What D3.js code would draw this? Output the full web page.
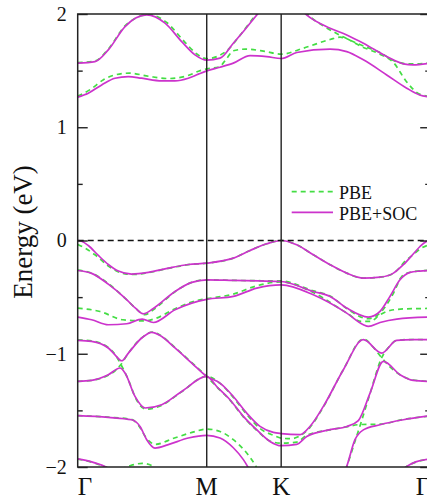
<!DOCTYPE html>
<html>
<head>
<meta charset="utf-8">
<script src="https://cdn.jsdelivr.net/npm/d3@7"></script>
<style>
body { margin: 0; background: #fff; }
svg { display: block; }
text { font-family: "Liberation Serif", "Times New Roman", serif; fill: #111; }
</style>
</head>
<body>
<svg></svg>
<script>
// k path: Gamma-M = 1, then M-K, K-Gamma (hexagonal BZ lengths)
const kPoints = [0, 1, 1.577, 2.732]
const kLabels = ["Γ", "M", "K", "Γ"]
const yTicks = [-2, -1, 0, 1, 2]
const yMinor = [-1.5, -0.5, 0.5, 1.5]
const legendNames = ["PBE", "PBE+SOC"]

// PBE+SOC bands [k, E in eV]
const socC2 = [[0,1.566],[0.134,1.58],[0.237,1.683],[0.367,1.889],[0.535,1.992],[0.677,1.919],[0.806,1.756],[0.909,1.639],[1,1.592],[1.103,1.61],[1.206,1.742],[1.284,1.845],[1.4,2.007],[1.5,2.13],[1.577,2.17],[1.68,2.1],[1.776,1.99],[1.956,1.875],[2.085,1.815],[2.214,1.742],[2.395,1.624],[2.524,1.56],[2.6,1.55],[2.732,1.566]]
const socC1 = [[0,1.266],[0.082,1.301],[0.186,1.374],[0.289,1.433],[0.392,1.447],[0.496,1.433],[0.651,1.41],[0.754,1.41],[0.857,1.433],[0.935,1.469],[1,1.498],[1.103,1.53],[1.206,1.566],[1.336,1.633],[1.465,1.624],[1.577,1.607],[1.698,1.66],[1.956,1.689],[2.085,1.668],[2.214,1.595],[2.395,1.462],[2.55,1.345],[2.65,1.285],[2.732,1.266]]
const socV1 = [[0,0],[0.03,-0.006],[0.082,-0.044],[0.16,-0.132],[0.237,-0.212],[0.315,-0.27],[0.418,-0.297],[0.548,-0.282],[0.703,-0.244],[0.858,-0.212],[1,-0.2],[1.206,-0.156],[1.336,-0.088],[1.465,-0.029],[1.577,0],[1.697,-0.038],[1.826,-0.126],[1.956,-0.214],[2.085,-0.288],[2.214,-0.332],[2.343,-0.324],[2.447,-0.288],[2.524,-0.214],[2.602,-0.117],[2.653,-0.053],[2.7,-0.01],[2.732,0]]
const socV2 = [[0,-0.265],[0.108,-0.29],[0.237,-0.385],[0.367,-0.508],[0.45,-0.6],[0.509,-0.647],[0.586,-0.6],[0.754,-0.45],[0.884,-0.37],[1,-0.347],[1.206,-0.352],[1.4,-0.357],[1.577,-0.362],[1.826,-0.45],[1.956,-0.494],[2.085,-0.597],[2.253,-0.676],[2.343,-0.626],[2.42,-0.494],[2.498,-0.347],[2.576,-0.282],[2.65,-0.27],[2.732,-0.265]]
const socV3 = [[0,-0.676],[0.108,-0.7],[0.237,-0.744],[0.38,-0.735],[0.5,-0.694],[0.586,-0.724],[0.754,-0.612],[0.884,-0.553],[1,-0.52],[1.206,-0.494],[1.388,-0.42],[1.577,-0.391],[1.826,-0.479],[2.085,-0.641],[2.214,-0.744],[2.253,-0.759],[2.343,-0.724],[2.473,-0.694],[2.732,-0.676]]
const socV4 = [[0,-0.882],[0.108,-0.89],[0.237,-0.949],[0.289,-1.009],[0.341,-1.062],[0.393,-0.994],[0.496,-0.861],[0.573,-0.811],[0.651,-0.847],[0.754,-0.949],[0.884,-1.082],[1,-1.2],[1.103,-1.259],[1.206,-1.377],[1.31,-1.524],[1.413,-1.641],[1.516,-1.694],[1.577,-1.705],[1.723,-1.715],[1.8,-1.642],[1.904,-1.465],[2.059,-1.141],[2.214,-0.876],[2.356,-0.994],[2.472,-0.882],[2.602,-0.876],[2.732,-0.876]]
const socV5 = [[0,-1.244],[0.108,-1.235],[0.237,-1.185],[0.328,-1.126],[0.367,-1.17],[0.444,-1.377],[0.522,-1.479],[0.651,-1.45],[0.806,-1.333],[1,-1.2],[1.077,-1.289],[1.18,-1.406],[1.284,-1.553],[1.387,-1.671],[1.49,-1.774],[1.577,-1.812],[1.697,-1.8],[1.775,-1.73],[1.956,-1.67],[2.085,-1.642],[2.175,-1.59],[2.266,-1.347],[2.369,-1.067],[2.498,-1.185],[2.6,-1.235],[2.732,-1.244]]
const socV6 = [[0,-1.547],[0.237,-1.562],[0.418,-1.583],[0.483,-1.642],[0.535,-1.759],[0.599,-1.833],[0.702,-1.803],[0.857,-1.744],[1,-1.72],[1.103,-1.744],[1.206,-1.83],[1.284,-1.935],[1.35,-2.06],[1.45,-2.25],[1.577,-2.35],[1.9,-2.35],[2.0,-2.2],[2.085,-1.995],[2.149,-1.759],[2.214,-1.672],[2.343,-1.627],[2.524,-1.583],[2.732,-1.547]]
const socV7 = [[0,-1.929],[0.108,-1.955],[0.21,-1.995],[0.33,-2.08],[0.5,-2.06],[0.7,-2.2],[2.3,-2.2],[2.45,-2.1],[2.55,-1.995],[2.62,-1.955],[2.732,-1.929]]

// PBE bands [k, E in eV]
const pbeC2 = [[0,1.57],[0.134,1.585],[0.237,1.69],[0.367,1.895],[0.55,1.995],[0.69,1.925],[0.82,1.765],[0.92,1.65],[1,1.605],[1.08,1.625],[1.16,1.68],[1.25,1.8],[1.38,1.99],[1.5,2.13],[1.577,2.17],[1.7,2.1],[1.8,1.977],[1.904,1.895],[2.033,1.812],[2.214,1.718],[2.343,1.66],[2.447,1.59],[2.55,1.56],[2.65,1.56],[2.732,1.57]]
const pbeC1 = [[0,1.275],[0.1,1.335],[0.2,1.42],[0.3,1.465],[0.4,1.478],[0.55,1.45],[0.7,1.43],[0.85,1.455],[0.95,1.5],[1,1.515],[1.1,1.535],[1.15,1.6],[1.206,1.675],[1.3,1.69],[1.45,1.67],[1.577,1.645],[1.749,1.698],[1.956,1.775],[2.033,1.795],[2.214,1.705],[2.343,1.645],[2.447,1.572],[2.55,1.4],[2.653,1.29],[2.732,1.272]]
const pbeV1 = [[0,-0.035],[0.056,-0.067],[0.134,-0.126],[0.237,-0.225],[0.367,-0.294],[0.444,-0.3],[0.548,-0.284],[0.703,-0.246],[0.858,-0.213],[1,-0.2],[1.206,-0.156],[1.336,-0.088],[1.465,-0.029],[1.577,0],[1.697,-0.038],[1.826,-0.126],[1.956,-0.214],[2.085,-0.288],[2.214,-0.332],[2.343,-0.324],[2.447,-0.29],[2.55,-0.17],[2.6,-0.126],[2.653,-0.075],[2.732,-0.035]]
const pbeV2 = [[0,-0.262],[0.108,-0.288],[0.237,-0.38],[0.367,-0.51],[0.45,-0.6],[0.52,-0.655],[0.6,-0.6],[0.754,-0.452],[0.884,-0.37],[1,-0.347],[1.206,-0.352],[1.4,-0.355],[1.577,-0.357],[1.826,-0.445],[1.956,-0.49],[2.085,-0.6],[2.25,-0.69],[2.36,-0.62],[2.45,-0.46],[2.51,-0.32],[2.58,-0.28],[2.732,-0.262]]
const pbeV3 = [[0,-0.597],[0.173,-0.627],[0.35,-0.7],[0.51,-0.71],[0.6,-0.69],[0.741,-0.61],[0.948,-0.523],[1,-0.514],[1.206,-0.473],[1.388,-0.4],[1.577,-0.365],[1.826,-0.46],[2.085,-0.64],[2.2,-0.715],[2.266,-0.715],[2.343,-0.656],[2.42,-0.618],[2.55,-0.603],[2.732,-0.6]]
const pbeV4 = [[0,-0.878],[0.108,-0.887],[0.237,-0.945],[0.289,-1.005],[0.335,-1.095],[0.4,-1.25],[0.444,-1.38],[0.53,-1.49],[0.651,-1.455],[0.806,-1.335],[1,-1.2],[1.103,-1.262],[1.206,-1.385],[1.31,-1.535],[1.413,-1.66],[1.516,-1.72],[1.577,-1.745],[1.65,-1.75],[1.723,-1.725],[1.8,-1.65],[1.904,-1.47],[2.059,-1.14],[2.214,-0.87],[2.3,-0.955],[2.356,-1.035],[2.42,-1.115],[2.498,-1.185],[2.6,-1.232],[2.732,-1.244]]
const pbeV5 = [[0,-1.244],[0.108,-1.235],[0.237,-1.19],[0.3,-1.14],[0.335,-1.095],[0.393,-0.994],[0.496,-0.86],[0.58,-0.808],[0.651,-0.845],[0.754,-0.945],[0.884,-1.078],[1,-1.2],[1.077,-1.292],[1.18,-1.41],[1.284,-1.558],[1.387,-1.676],[1.49,-1.77],[1.577,-1.79],[1.697,-1.78],[1.775,-1.72],[1.956,-1.672],[2.085,-1.645],[2.19,-1.625],[2.343,-1.622],[2.524,-1.58],[2.732,-1.55]]
const pbeV6 = [[0,-1.547],[0.237,-1.56],[0.418,-1.58],[0.47,-1.63],[0.53,-1.74],[0.6,-1.8],[0.75,-1.744],[0.9,-1.69],[1,-1.665],[1.103,-1.686],[1.206,-1.759],[1.31,-1.877],[1.374,-1.98],[1.45,-2.15],[1.577,-2.35],[1.9,-2.35],[2.0,-2.2],[2.085,-1.995],[2.15,-1.77],[2.19,-1.63],[2.266,-1.35],[2.356,-1.035],[2.42,-0.93],[2.472,-0.882],[2.602,-0.874],[2.732,-0.876]]
const pbeV7 = [[0,-1.93],[0.108,-1.957],[0.21,-1.997],[0.3,-2.03],[0.4,-1.99],[0.5,-1.968],[0.58,-1.99],[0.68,-2.1],[2.3,-2.2],[2.45,-2.1],[2.55,-1.995],[2.62,-1.957],[2.732,-1.93]]

const socBands = [socC2, socC1, socV1, socV2, socV3, socV4, socV5, socV6, socV7]
const pbeBands = [pbeC2, pbeC1, pbeV1, pbeV2, pbeV3, pbeV4, pbeV5, pbeV6, pbeV7]

const w = 427
const h = 504
const pLeft = 77.7
const pRight = 430.2
const pTop = 14
const pBottom = 467

const socColor = "#cc33cc"
const pbeColor = "#44dd44"

const svg = d3.select("svg").attr("width", w).attr("height", h)

const xScale = d3.scaleLinear().domain([kPoints[0], kPoints[3]]).range([pLeft, pRight])
const yScale = d3.scaleLinear().domain([-2, 2]).range([pBottom, pTop])

svg.append("clipPath").attr("id", "plot").append("rect")
    .attr("x", pLeft).attr("y", pTop).attr("width", pRight - pLeft).attr("height", pBottom - pTop)

const line = d3.line().x(d => xScale(d[0])).y(d => yScale(d[1])).curve(d3.curveMonotoneX)

const bands = svg.append("g").attr("clip-path", "url(#plot)")

// green dashed PBE first, SOC on top
bands.selectAll(".pbe").data(pbeBands).enter().append("path").attr("class", "pbe")
    .attr("d", line).attr("fill", "none").attr("stroke", pbeColor)
    .attr("stroke-width", 1.7).attr("stroke-dasharray", "5,4")

bands.selectAll(".soc").data(socBands).enter().append("path").attr("class", "soc")
    .attr("d", line).attr("fill", "none").attr("stroke", socColor).attr("stroke-width", 1.7)

// Fermi level
svg.append("line").attr("x1", pLeft).attr("x2", pRight).attr("y1", yScale(0)).attr("y2", yScale(0))
    .attr("stroke", "#111").attr("stroke-width", 1.3).attr("stroke-dasharray", "6,4")

// high symmetry lines
svg.selectAll(".ksym").data(kPoints.slice(1, 3)).enter().append("line").attr("class", "ksym")
    .attr("x1", d => xScale(d)).attr("x2", d => xScale(d)).attr("y1", pTop).attr("y2", pBottom)
    .attr("stroke", "#222").attr("stroke-width", 1.4)

// axes, ticks pointing inward
let drawAxis = () => {
    let axisL = d3.axisLeft(yScale).tickValues(yTicks).tickSize(-10).tickPadding(11).tickFormat(d3.format("d"))
    let gl = svg.append("g").attr("transform", "translate(" + pLeft + ",0)").call(axisL)
    gl.select(".domain").remove()
    gl.selectAll("text").style("font-size", "20px").attr("fill", "#111")
    gl.selectAll("line").attr("stroke", "#222").attr("stroke-width", 1.4)

    let minorL = d3.axisLeft(yScale).tickValues(yMinor).tickSize(-5).tickFormat("")
    let gm = svg.append("g").attr("transform", "translate(" + pLeft + ",0)").call(minorL)
    gm.select(".domain").remove()
    gm.selectAll("line").attr("stroke", "#222").attr("stroke-width", 1.4)

    let axisR = d3.axisRight(yScale).tickValues(yTicks).tickSize(-10).tickFormat("")
    let gr = svg.append("g").attr("transform", "translate(" + pRight + ",0)").call(axisR)
    gr.select(".domain").remove()
    gr.selectAll("line").attr("stroke", "#222").attr("stroke-width", 1.4)

    let minorR = d3.axisRight(yScale).tickValues(yMinor).tickSize(-5).tickFormat("")
    let gmr = svg.append("g").attr("transform", "translate(" + pRight + ",0)").call(minorR)
    gmr.select(".domain").remove()
    gmr.selectAll("line").attr("stroke", "#222").attr("stroke-width", 1.4)
}
drawAxis()

// frame
svg.append("rect").attr("x", pLeft).attr("y", pTop).attr("width", pRight - pLeft).attr("height", pBottom - pTop)
    .attr("fill", "none").attr("stroke", "#222").attr("stroke-width", 1.5)

// k labels
svg.selectAll(".klab").data(kPoints).enter().append("text").attr("class", "klab")
    .attr("x", d => xScale(d)).attr("y", 495)
    .attr("text-anchor", (d, i) => i == 0 ? "start" : (i == 3 ? "end" : "middle"))
    .style("font-size", "25px")
    .text((d, i) => kLabels[i])

svg.append("text").attr("transform", "translate(32," + 232 + ") rotate(-90)")
    .attr("text-anchor", "middle").style("font-size", "27px").text("Energy (eV)")

// legend
const legend = svg.append("g")
legend.selectAll("line").data(legendNames).enter().append("line")
    .attr("x1", 291.7).attr("x2", 333).attr("y1", (d, i) => 191.7 + i * 20.6).attr("y2", (d, i) => 191.7 + i * 20.6)
    .attr("stroke", (d, i) => i == 0 ? pbeColor : socColor).attr("stroke-width", 1.7)
    .attr("stroke-dasharray", (d, i) => i == 0 ? "5,4" : null)
legend.selectAll("text").data(legendNames).enter().append("text")
    .attr("x", 339).attr("y", (d, i) => 198.5 + i * 21.2).style("font-size", "18px").text(d => d)
</script>
</body>
</html>
